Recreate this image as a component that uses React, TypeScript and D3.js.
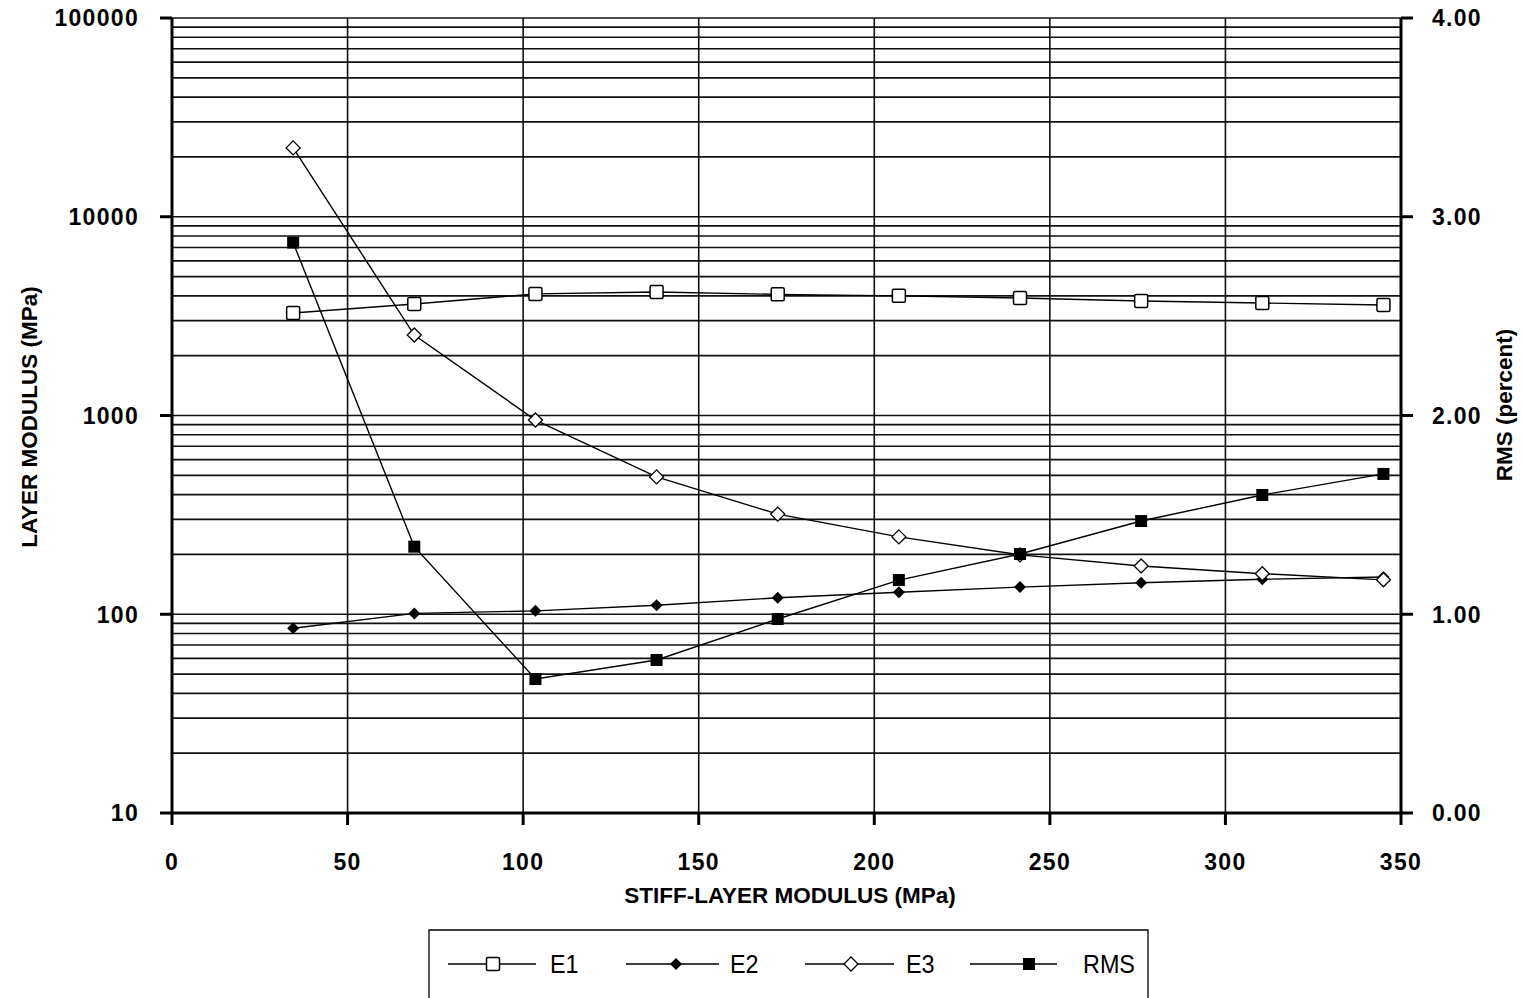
import React, { useEffect, useRef } from 'react';
import * as d3 from 'd3';

// stiff-layer modulus (MPa)
const stiffModulus = [34.5, 69, 103.5, 138, 172.5, 207, 241.5, 276, 310.5, 345];
// layer moduli (MPa), log axis
const e1 = [3280, 3640, 4090, 4180, 4070, 4000, 3900, 3770, 3680, 3600];
const e2 = [85, 101, 104, 111, 121, 129, 137, 144, 150, 154];
const e3 = [22200, 2540, 949, 491, 319, 245, 199, 175, 160, 149];
// RMS (percent), right axis
const rms = [2.87, 1.34, 0.674, 0.77, 0.976, 1.172, 1.303, 1.469, 1.6, 1.706];

const xTicks = [0, 50, 100, 150, 200, 250, 300, 350];
const yTicks = [10, 100, 1000, 10000, 100000];
const rTicks = [0, 1, 2, 3, 4];

const App = () => {
  const ref = useRef<SVGSVGElement | null>(null);

  useEffect(() => {
    const svg = d3.select(ref.current);
    svg.selectAll('*').remove();

    const left = 172, right = 1401, top = 18, bottom = 813;
    const font = '"Liberation Sans", Arial, sans-serif';

    const x = d3.scaleLinear().domain([0, 350]).range([left, right]);
    const y = d3.scaleLog().domain([10, 100000]).range([bottom, top]);
    const yr = d3.scaleLinear().domain([0, 4]).range([bottom, top]);

    // horizontal grid: every 1..9 x decade
    const grid: number[] = [];
    for (let p = 1; p <= 4; p++) {
      for (let m = 1; m <= 9; m++) grid.push(m * Math.pow(10, p));
    }
    grid.push(100000);
    svg.append('g').selectAll('line').data(grid).enter().append('line')
      .attr('x1', left).attr('x2', right)
      .attr('y1', d => y(d)).attr('y2', d => y(d))
      .attr('stroke', '#111').attr('stroke-width', 1.6);

    // vertical grid
    svg.append('g').selectAll('line').data(xTicks.slice(1, -1)).enter().append('line')
      .attr('x1', d => x(d)).attr('x2', d => x(d))
      .attr('y1', top).attr('y2', bottom)
      .attr('stroke', '#111').attr('stroke-width', 1.6);

    // axes frame
    const axis = svg.append('g').attr('stroke', '#000').attr('stroke-width', 3);
    axis.append('line').attr('x1', left).attr('x2', left).attr('y1', top).attr('y2', bottom + 1);
    axis.append('line').attr('x1', right).attr('x2', right).attr('y1', top).attr('y2', bottom + 1);
    axis.append('line').attr('x1', left).attr('x2', right).attr('y1', bottom).attr('y2', bottom);

    // ticks
    axis.selectAll('.lt').data(yTicks).enter().append('line')
      .attr('x1', left - 12).attr('x2', left).attr('y1', d => y(d)).attr('y2', d => y(d));
    axis.selectAll('.bt').data(xTicks).enter().append('line')
      .attr('x1', d => x(d)).attr('x2', d => x(d)).attr('y1', bottom).attr('y2', bottom + 12);
    axis.selectAll('.rt').data(rTicks).enter().append('line')
      .attr('x1', right).attr('x2', right + 12).attr('y1', d => yr(d)).attr('y2', d => yr(d));

    // tick labels
    const labels = svg.append('g')
      .attr('font-family', font).attr('font-weight', 'bold').attr('font-size', 23)
      .attr('letter-spacing', 1.3).attr('fill', '#000');
    labels.selectAll('.ly').data(yTicks).enter().append('text')
      .attr('x', 139).attr('y', d => y(d)).attr('dy', '0.36em').attr('text-anchor', 'end')
      .text(d => String(d));
    labels.selectAll('.lx').data(xTicks).enter().append('text')
      .attr('x', d => x(d)).attr('y', 870).attr('text-anchor', 'middle')
      .text(d => String(d));
    labels.selectAll('.lr').data(rTicks).enter().append('text')
      .attr('x', 1432).attr('y', d => yr(d)).attr('dy', '0.36em')
      .text(d => d.toFixed(2));

    // axis titles
    const titles = svg.append('g')
      .attr('font-family', font).attr('font-weight', 'bold').attr('font-size', 22.5).attr('fill', '#000')
      .attr('text-anchor', 'middle');
    titles.append('text').attr('transform', `translate(37, 417) rotate(-90)`).text('LAYER MODULUS (MPa)');
    titles.append('text').attr('transform', `translate(1512, 405) rotate(-90)`).text('RMS (percent)');
    titles.append('text').attr('x', 790).attr('y', 903).text('STIFF-LAYER MODULUS (MPa)');

    // series
    const series = [
      { name: 'E1', values: e1, scale: y, marker: 'openSquare' },
      { name: 'E2', values: e2, scale: y, marker: 'filledDiamond' },
      { name: 'E3', values: e3, scale: y, marker: 'openDiamond' },
      { name: 'RMS', values: rms, scale: yr, marker: 'filledSquare' },
    ];

    const drawMarker = (g: any, kind: string, cx: number, cy: number) => {
      if (kind === 'openSquare') {
        g.append('rect').attr('x', cx - 6.5).attr('y', cy - 6.5).attr('width', 13).attr('height', 13)
          .attr('rx', 1.5).attr('fill', '#fff').attr('stroke', '#000').attr('stroke-width', 1.5);
      } else if (kind === 'filledSquare') {
        g.append('rect').attr('x', cx - 6).attr('y', cy - 6).attr('width', 12).attr('height', 12)
          .attr('fill', '#000');
      } else if (kind === 'openDiamond') {
        g.append('path').attr('d', `M${cx},${cy - 7}L${cx + 7},${cy}L${cx},${cy + 7}L${cx - 7},${cy}Z`)
          .attr('fill', '#fff').attr('stroke', '#000').attr('stroke-width', 1.3);
      } else {
        g.append('path').attr('d', `M${cx},${cy - 6}L${cx + 6},${cy}L${cx},${cy + 6}L${cx - 6},${cy}Z`)
          .attr('fill', '#000');
      }
    };

    series.forEach(s => {
      const line = d3.line<number>()
        .x((d, i) => x(stiffModulus[i]))
        .y(d => s.scale(d));
      svg.append('path').datum(s.values).attr('d', line)
        .attr('fill', 'none').attr('stroke', '#000').attr('stroke-width', 1.4);
    });
    series.forEach(s => {
      const g = svg.append('g');
      s.values.forEach((v, i) => drawMarker(g, s.marker, x(stiffModulus[i]), s.scale(v)));
    });

    // legend
    const legend = svg.append('g');
    const ly = 964;
    legend.append('path').attr('d', 'M429,1010V930H1148V1010')
      .attr('fill', 'none').attr('stroke', '#000').attr('stroke-width', 1.3);
    const legendItems = [
      { x1: 448, x2: 536, mark: 493, label: 550 },
      { x1: 626, x2: 719, mark: 676, label: 730 },
      { x1: 805, x2: 894, mark: 851, label: 906 },
      { x1: 970, x2: 1057, mark: 1029, label: 1083 },
    ];
    series.forEach((s, i) => {
      const it = legendItems[i];
      legend.append('line').attr('x1', it.x1).attr('x2', it.x2).attr('y1', ly).attr('y2', ly)
        .attr('stroke', '#000').attr('stroke-width', 1.3);
      drawMarker(legend, s.marker, it.mark, ly);
      legend.append('text')
        .attr('transform', `translate(${it.label},${ly}) scale(0.9,1)`)
        .attr('dy', '0.36em')
        .attr('font-family', font)
        .attr('font-size', 26).attr('fill', '#000')
        .text(s.name);
    });
  }, []);

  return (
    <svg ref={ref} width={1522} height={998}
      style={{ position: 'absolute', left: 0, top: 0, background: '#fff' }} />
  );
};

export default App;
